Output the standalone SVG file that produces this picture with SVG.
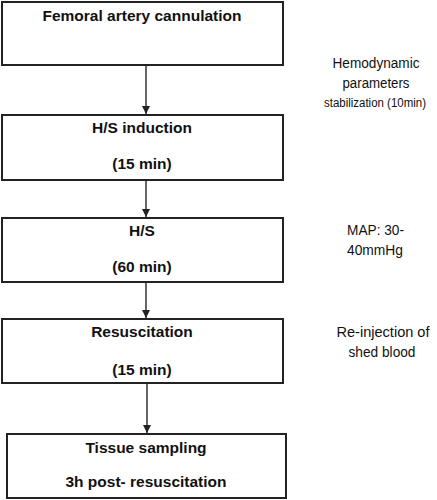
<svg xmlns="http://www.w3.org/2000/svg" width="437" height="500" viewBox="0 0 437 500">
<defs>
<marker id="ah" markerWidth="8" markerHeight="8" refX="8" refY="4" orient="auto" markerUnits="userSpaceOnUse">
<path d="M0,0 L8,4 L0,8 Z" fill="#222"/>
</marker>
<style>
.box{fill:#fff;stroke:#222;stroke-width:2}
.bt{font-family:"Liberation Sans",Arial,sans-serif;font-weight:bold;font-size:15.5px;fill:#111;text-anchor:middle}
.st{font-family:"Liberation Sans",Arial,sans-serif;font-size:14px;fill:#111}
.conn line{stroke:#333;stroke-width:1.5}
</style>
</defs>
<rect width="437" height="500" fill="#fff"/>
<g id="n1"><rect class="box" x="2" y="2" width="281" height="63"/><text class="bt" x="142" y="21">Femoral artery cannulation</text></g>
<g id="n2"><rect class="box" x="2" y="115" width="281" height="65"/><text class="bt" x="142" y="133">H/S induction</text><text class="bt" x="142" y="169">(15 min)</text></g>
<g id="n3"><rect class="box" x="2" y="218" width="281" height="64"/><text class="bt" x="142" y="236">H/S</text><text class="bt" x="142" y="272">(60 min)</text></g>
<g id="n4"><rect class="box" x="2" y="319" width="281" height="64"/><text class="bt" x="142" y="337">Resuscitation</text><text class="bt" x="142" y="375">(15 min)</text></g>
<g id="n5"><rect class="box" x="7" y="434" width="279" height="64"/><text class="bt" x="146" y="453">Tissue sampling</text><text class="bt" x="146" y="487">3h post- resuscitation</text></g>
<g id="side">
<text class="st" x="376" y="68" text-anchor="middle" textLength="87" lengthAdjust="spacingAndGlyphs">Hemodynamic</text>
<text class="st" x="376" y="88" text-anchor="middle" textLength="67" lengthAdjust="spacingAndGlyphs">parameters</text>
<text class="st" x="375" y="107" text-anchor="middle" style="font-size:12px" textLength="102" lengthAdjust="spacingAndGlyphs">stabilization (10min)</text>
<text class="st" x="347" y="235" textLength="57" lengthAdjust="spacingAndGlyphs">MAP: 30-</text>
<text class="st" x="347" y="255" textLength="56" lengthAdjust="spacingAndGlyphs">40mmHg</text>
<text class="st" x="383" y="337" text-anchor="middle" textLength="93" lengthAdjust="spacingAndGlyphs">Re-injection of</text>
<text class="st" x="382" y="357" text-anchor="middle" textLength="67" lengthAdjust="spacingAndGlyphs">shed blood</text>
</g>
<g id="connectors" class="conn">
<line x1="146" y1="66" x2="146" y2="114" marker-end="url(#ah)"/>
<line x1="146" y1="181" x2="146" y2="217" marker-end="url(#ah)"/>
<line x1="146" y1="283" x2="146" y2="318" marker-end="url(#ah)"/>
<line x1="147" y1="384" x2="147" y2="433" marker-end="url(#ah)"/>
</g>
</svg>
